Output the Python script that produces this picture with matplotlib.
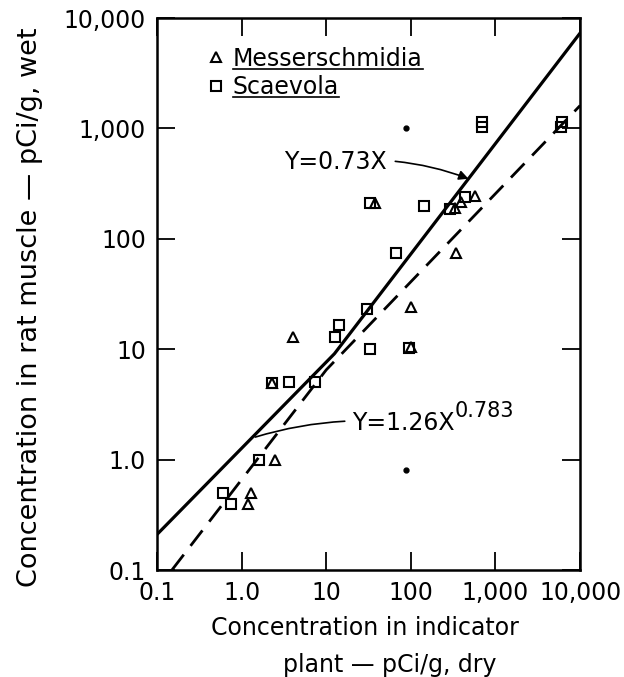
import matplotlib.pyplot as plt
from matplotlib.lines import Line2D
from matplotlib.ticker import FixedLocator, FixedFormatter, NullLocator

# Messerschmidia (triangles)
mess_x = [1.2, 1.3, 2.5, 2.3, 4.1, 38, 100, 100, 340, 330, 390, 580]
mess_y = [0.4, 0.5, 1.0, 4.9, 13, 210, 24, 10.5, 75, 190, 215, 245]

# Scaevola (squares)
scae_x = [0.6, 0.75, 1.6, 2.3, 3.6, 7.4, 12.7, 14, 30, 33, 33, 66, 95, 145,
          290, 440, 700, 700, 6000, 6100]
scae_y = [0.5, 0.4, 1.0, 4.9, 5.0, 5.0, 12.8, 16.5, 23, 10, 210, 75, 10.3, 200,
          185, 240, 1020, 1150, 1020, 1150]

# unlabelled small dots
dot_x = [87, 87]
dot_y = [1000, 0.8]

# solid fit: Y=1.26X^0.783 below the break, Y=0.73X above
solid_x = [0.1, 12.5, 10000]
solid_y = [0.21, 9.1, 7300]

# dashed line
dash_x = [0.15, 10, 10000]
dash_y = [0.1, 6.5, 1610]

ticks = [0.1, 1, 10, 100, 1000, 10000]
tick_labels = ["0.1", "1.0", "10", "100", "1,000", "10,000"]

FS = 17


def main():
    plt.rcParams["font.family"] = ["DejaVu Sans"]

    fig = plt.figure(figsize=(6.24, 6.77), dpi=100)
    ax = fig.add_axes([0.2516, 0.158, 0.678, 0.8154])
    ax.set_xscale("log")
    ax.set_yscale("log")
    ax.set_xlim(0.1, 10000)
    ax.set_ylim(0.1, 10000)

    ax.plot(solid_x, solid_y, color="black", lw=2.3)
    ax.plot(dash_x, dash_y, color="black", lw=2.0, dashes=(7, 4))

    ax.plot(mess_x, mess_y, ls="none", marker="^", ms=7, mew=1.5,
            mfc="none", mec="black", label="Messerschmidia")
    ax.plot(scae_x, scae_y, ls="none", marker="s", ms=6.5, mew=1.5,
            mfc="none", mec="black", label="Scaevola")
    ax.plot(dot_x, dot_y, ls="none", marker="o", ms=3.5, color="black")

    for a in (ax.xaxis, ax.yaxis):
        a.set_major_locator(FixedLocator(ticks))
        a.set_major_formatter(FixedFormatter(tick_labels))
        a.set_minor_locator(NullLocator())
    ax.tick_params(which="major", direction="in", length=13, width=1.3,
                   top=True, right=True, labelsize=FS, pad=8)
    for s in ax.spines.values():
        s.set_linewidth(1.8)

    ax.annotate("Y=0.73X", xy=(480, 350), xytext=(3.2, 500),
                fontsize=FS, ha="left", va="center",
                arrowprops=dict(arrowstyle="-|>", color="black", lw=1.2,
                                mutation_scale=14,
                                connectionstyle="arc3,rad=-0.12",
                                shrinkA=4, shrinkB=0))
    ann = ax.annotate("Y=1.26X", xy=(1.45, 1.6), xytext=(20, 1.87),
                      fontsize=FS, ha="left", va="baseline",
                      arrowprops=dict(arrowstyle="-", color="black", lw=1.2,
                                      connectionstyle="arc3,rad=0.1",
                                      shrinkA=3, shrinkB=0))
    ax.annotate("0.783", xy=(1.0, 0.62), xycoords=ann, ha="left",
                va="bottom", fontsize=15)

    leg = ax.legend(loc="upper left", bbox_to_anchor=(0.118, 0.948),
                    frameon=False, fontsize=FS, handlelength=0.8,
                    handletextpad=0.3, labelspacing=0.2, borderpad=0,
                    borderaxespad=0, markerscale=1.0)

    fig.text(0.048, 0.5465, "Concentration in rat muscle — pCi/g, wet",
             rotation=90, ha="center", va="center", fontsize=19.5)
    fig.text(365 / 624, 1 - 628 / 677, "Concentration in indicator",
             ha="center", va="center", fontsize=FS)
    fig.text(390 / 624, 1 - 665 / 677, "plant — pCi/g, dry",
             ha="center", va="center", fontsize=FS)

    # underline legend entries
    fig.canvas.draw()
    renderer = fig.canvas.get_renderer()
    inv = fig.transFigure.inverted()
    for t in leg.get_texts():
        bb = t.get_window_extent(renderer)
        (x0, y0), (x1, _) = inv.transform([(bb.x0, bb.y0 + 2), (bb.x1, bb.y0 + 2)])
        fig.add_artist(Line2D([x0, x1], [y0, y0], color="black", lw=1.2,
                              transform=fig.transFigure))

    fig.savefig("out.png", dpi=100)


if __name__ == "__main__":
    main()
